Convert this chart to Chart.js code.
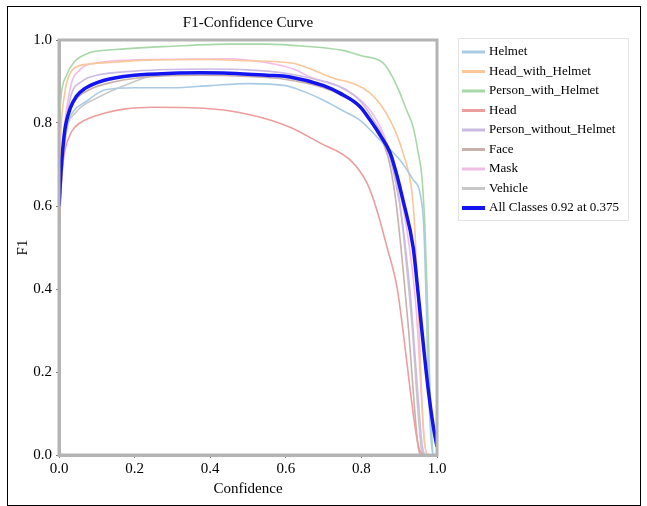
<!DOCTYPE html>
<html>
<head>
<meta charset="utf-8">
<script src="https://cdn.jsdelivr.net/npm/chart.js@4.4.0/dist/chart.umd.min.js"></script>
<style>
  body { margin: 0; background: #fff; }
</style>
</head>
<body>
<canvas id="f1Chart" width="647" height="506"></canvas>
<script>
// class names as shown in the legend
const classNames = ['Helmet', 'Head_with_Helmet', 'Person_with_Helmet', 'Head',
  'Person_without_Helmet', 'Face', 'Mask', 'Vehicle', 'All Classes 0.92 at 0.375'];

// confidence / F1 pairs, one pair of arrays per class
const helmetConf = [0, 0.01, 0.02, 0.04, 0.069, 0.122, 0.2, 0.3, 0.4, 0.5, 0.6, 0.65, 0.7, 0.75, 0.796, 0.849, 0.902, 0.937, 0.955, 0.965, 0.972, 0.978, 0.985, 0.99, 1];
const helmetF1   = [0.6, 0.72, 0.79, 0.83, 0.85, 0.88, 0.885, 0.885, 0.89, 0.895, 0.89, 0.875, 0.855, 0.83, 0.807, 0.759, 0.711, 0.663, 0.631, 0.55, 0.35, 0.15, 0.03, 0, 0];

const headHelmetConf = [0, 0.005, 0.015, 0.02, 0.04, 0.08, 0.15, 0.25, 0.4, 0.5, 0.611, 0.717, 0.823, 0.876, 0.91, 0.934, 0.942, 0.95, 0.957, 0.965, 0.975, 1];
const headHelmetF1   = [0.62, 0.78, 0.87, 0.896, 0.932, 0.942, 0.947, 0.952, 0.953, 0.95, 0.945, 0.911, 0.872, 0.807, 0.728, 0.631, 0.535, 0.37, 0.2, 0.05, 0, 0];

const personHelmetConf = [0, 0.005, 0.02, 0.04, 0.08, 0.15, 0.3, 0.45, 0.55, 0.65, 0.75, 0.8, 0.857, 0.88, 0.902, 0.92, 0.937, 0.95, 0.96, 0.968, 0.974, 0.98, 0.986, 0.99, 1];
const personHelmetF1   = [0.78, 0.86, 0.915, 0.947, 0.969, 0.977, 0.985, 0.99, 0.99, 0.985, 0.975, 0.962, 0.945, 0.915, 0.872, 0.83, 0.79, 0.73, 0.67, 0.55, 0.39, 0.2, 0.05, 0, 0];

const headConf = [0, 0.01, 0.029, 0.042, 0.069, 0.122, 0.175, 0.25, 0.373, 0.505, 0.611, 0.69, 0.77, 0.815, 0.841, 0.868, 0.894, 0.91, 0.93, 0.945, 0.955, 0.97, 1];
const headF1   = [0.57, 0.7, 0.771, 0.79, 0.807, 0.824, 0.834, 0.838, 0.836, 0.82, 0.79, 0.752, 0.711, 0.655, 0.59, 0.5, 0.405, 0.3, 0.15, 0.05, 0.01, 0, 0];

const personNoHelmetConf = [0, 0.01, 0.03, 0.06, 0.1, 0.2, 0.4, 0.5, 0.6, 0.7, 0.76, 0.8, 0.83, 0.86, 0.89, 0.91, 0.93, 0.95, 0.96, 0.97, 1];
const personNoHelmetF1   = [0.6, 0.74, 0.86, 0.9, 0.915, 0.925, 0.93, 0.928, 0.92, 0.9, 0.88, 0.85, 0.81, 0.76, 0.66, 0.55, 0.38, 0.14, 0.03, 0, 0];

const faceConf = [0, 0.01, 0.02, 0.04, 0.08, 0.15, 0.25, 0.375, 0.5, 0.6, 0.7, 0.75, 0.8, 0.84, 0.87, 0.89, 0.91, 0.925, 0.94, 0.95, 0.96, 1];
const faceF1   = [0.55, 0.72, 0.8, 0.85, 0.88, 0.9, 0.912, 0.915, 0.912, 0.905, 0.885, 0.865, 0.835, 0.78, 0.72, 0.62, 0.45, 0.3, 0.12, 0.02, 0, 0];

const maskConf = [0, 0.01, 0.03, 0.055, 0.1, 0.2, 0.35, 0.45, 0.55, 0.62, 0.664, 0.743, 0.823, 0.86, 0.89, 0.91, 0.93, 0.945, 0.955, 0.965, 0.975, 1];
const maskF1   = [0.6, 0.75, 0.885, 0.928, 0.945, 0.952, 0.954, 0.955, 0.945, 0.93, 0.911, 0.887, 0.831, 0.77, 0.68, 0.6, 0.48, 0.35, 0.2, 0.05, 0, 0];

const vehicleConf = [0, 0.01, 0.02, 0.045, 0.1, 0.2, 0.25, 0.3, 0.4, 0.5, 0.6, 0.7, 0.75, 0.823, 0.876, 0.9, 0.92, 0.935, 0.95, 0.96, 0.97, 1];
const vehicleF1   = [0.55, 0.7, 0.78, 0.826, 0.86, 0.9, 0.915, 0.92, 0.922, 0.918, 0.91, 0.888, 0.87, 0.807, 0.72, 0.62, 0.45, 0.3, 0.1, 0.01, 0, 0];

const allConf = [0, 0.005, 0.015, 0.03, 0.045, 0.07, 0.12, 0.2, 0.3, 0.375, 0.45, 0.55, 0.611, 0.7, 0.743, 0.796, 0.823, 0.85, 0.876, 0.895, 0.91, 0.937, 0.95, 0.96, 0.976, 0.99, 1];
const allF1   = [0.6, 0.68, 0.78, 0.836, 0.863, 0.884, 0.903, 0.915, 0.92, 0.921, 0.92, 0.915, 0.911, 0.89, 0.872, 0.84, 0.807, 0.77, 0.728, 0.67, 0.614, 0.5, 0.39, 0.3, 0.164, 0.07, 0.02];

const axisTicks = [0, 0.2, 0.4, 0.6, 0.8, 1.0];

const lineColors = ['#a9cbe3', '#f9c79a', '#a8d8a8', '#ec9e9e', '#cbbbe2', '#c9b1ab', '#f2bde4', '#c8c8c8', '#1414f0'];

const series = [
  [helmetConf, helmetF1], [headHelmetConf, headHelmetF1], [personHelmetConf, personHelmetF1],
  [headConf, headF1], [personNoHelmetConf, personNoHelmetF1], [faceConf, faceF1],
  [maskConf, maskF1], [vehicleConf, vehicleF1], [allConf, allF1]
];

function toPoints(xs, ys) {
  return xs.map((x, i) => ({ x: x, y: ys[i] }));
}

const serif = '"Liberation Serif", "DejaVu Serif", serif';

const datasets = series.map((s, i) => {
  const isAll = i === series.length - 1;
  return {
    label: classNames[i],
    data: toPoints(s[0], s[1]),
    borderColor: lineColors[i],
    backgroundColor: lineColors[i],
    borderWidth: isAll ? 3.5 : 1.6,
    pointRadius: 0,
    cubicInterpolationMode: 'monotone',
    fill: false,
    order: isAll ? 0 : 1
  };
});

// frame around everything, grey box round the plot, the legend and the title
const decorations = {
  id: 'decorations',
  beforeDraw(chart) {
    const ctx = chart.ctx;
    ctx.save();
    ctx.fillStyle = '#fff';
    ctx.fillRect(0, 0, chart.width, chart.height);
    ctx.restore();
  },
  afterDraw(chart) {
    const ctx = chart.ctx;
    const a = chart.chartArea;
    ctx.save();
    ctx.strokeStyle = '#b4b4b4';
    ctx.lineWidth = 3;
    ctx.strokeRect(a.left, a.top, a.right - a.left, a.bottom - a.top);

    // legend, built from the datasets
    const lx = a.right + 21;
    ctx.strokeStyle = '#e4e4e4';
    ctx.lineWidth = 1;
    ctx.strokeRect(lx + 0.5, a.top - 1.5, 170, 182);
    ctx.font = '13px ' + serif;
    ctx.textAlign = 'left';
    ctx.textBaseline = 'middle';
    chart.data.datasets.forEach((d, i) => {
      const y = a.top + 12 + i * 19.5;
      ctx.strokeStyle = d.borderColor;
      ctx.lineWidth = d.borderWidth > 2 ? 4 : 3;
      ctx.beginPath();
      ctx.moveTo(lx + 4, y);
      ctx.lineTo(lx + 27, y);
      ctx.stroke();
      ctx.fillStyle = '#000';
      ctx.fillText(d.label, lx + 31, y);
    });

    ctx.strokeStyle = '#000';
    ctx.lineWidth = 1;
    ctx.strokeRect(7.5, 6.5, 633, 499);

    ctx.fillStyle = '#000';
    ctx.font = '15px ' + serif;
    ctx.textAlign = 'center';
    ctx.fillText('F1-Confidence Curve', (a.left + a.right) / 2, 23);
    ctx.restore();
  }
};

new Chart(document.getElementById('f1Chart'), {
  type: 'line',
  data: { datasets: datasets },
  options: {
    responsive: false,
    animation: false,
    layout: { padding: { left: 14, top: 40, bottom: 8, right: 210 } },
    plugins: {
      title: { display: false },
      tooltip: { enabled: false },
      legend: { display: false }
    },
    scales: {
      x: {
        type: 'linear',
        min: 0,
        max: 1,
        afterBuildTicks(scale) { scale.ticks = axisTicks.map(v => ({ value: v })); },
        afterFit(scale) { scale.height = 43; },
        grid: { display: true, drawOnChartArea: false, tickLength: 3, color: '#777' },
        border: { color: '#b4b4b4', width: 3 },
        ticks: { color: '#000', font: { family: serif, size: 15 }, padding: 2, maxRotation: 0,
          callback: v => v.toFixed(1) },
        title: { display: true, text: 'Confidence', color: '#000', font: { family: serif, size: 15 },
          padding: { top: 4, bottom: 0 } }
      },
      y: {
        type: 'linear',
        min: 0,
        max: 1,
        afterBuildTicks(scale) { scale.ticks = axisTicks.map(v => ({ value: v })); },
        afterFit(scale) { scale.width = 45; },
        grid: { display: true, drawOnChartArea: false, tickLength: 3, color: '#777' },
        border: { color: '#b4b4b4', width: 3 },
        ticks: { color: '#000', font: { family: serif, size: 15 }, padding: 4,
          callback: v => v.toFixed(1) },
        title: { display: true, text: 'F1', color: '#000', font: { family: serif, size: 15 }, padding: 0 }
      }
    }
  },
  plugins: [decorations]
});
</script>
</body>
</html>
